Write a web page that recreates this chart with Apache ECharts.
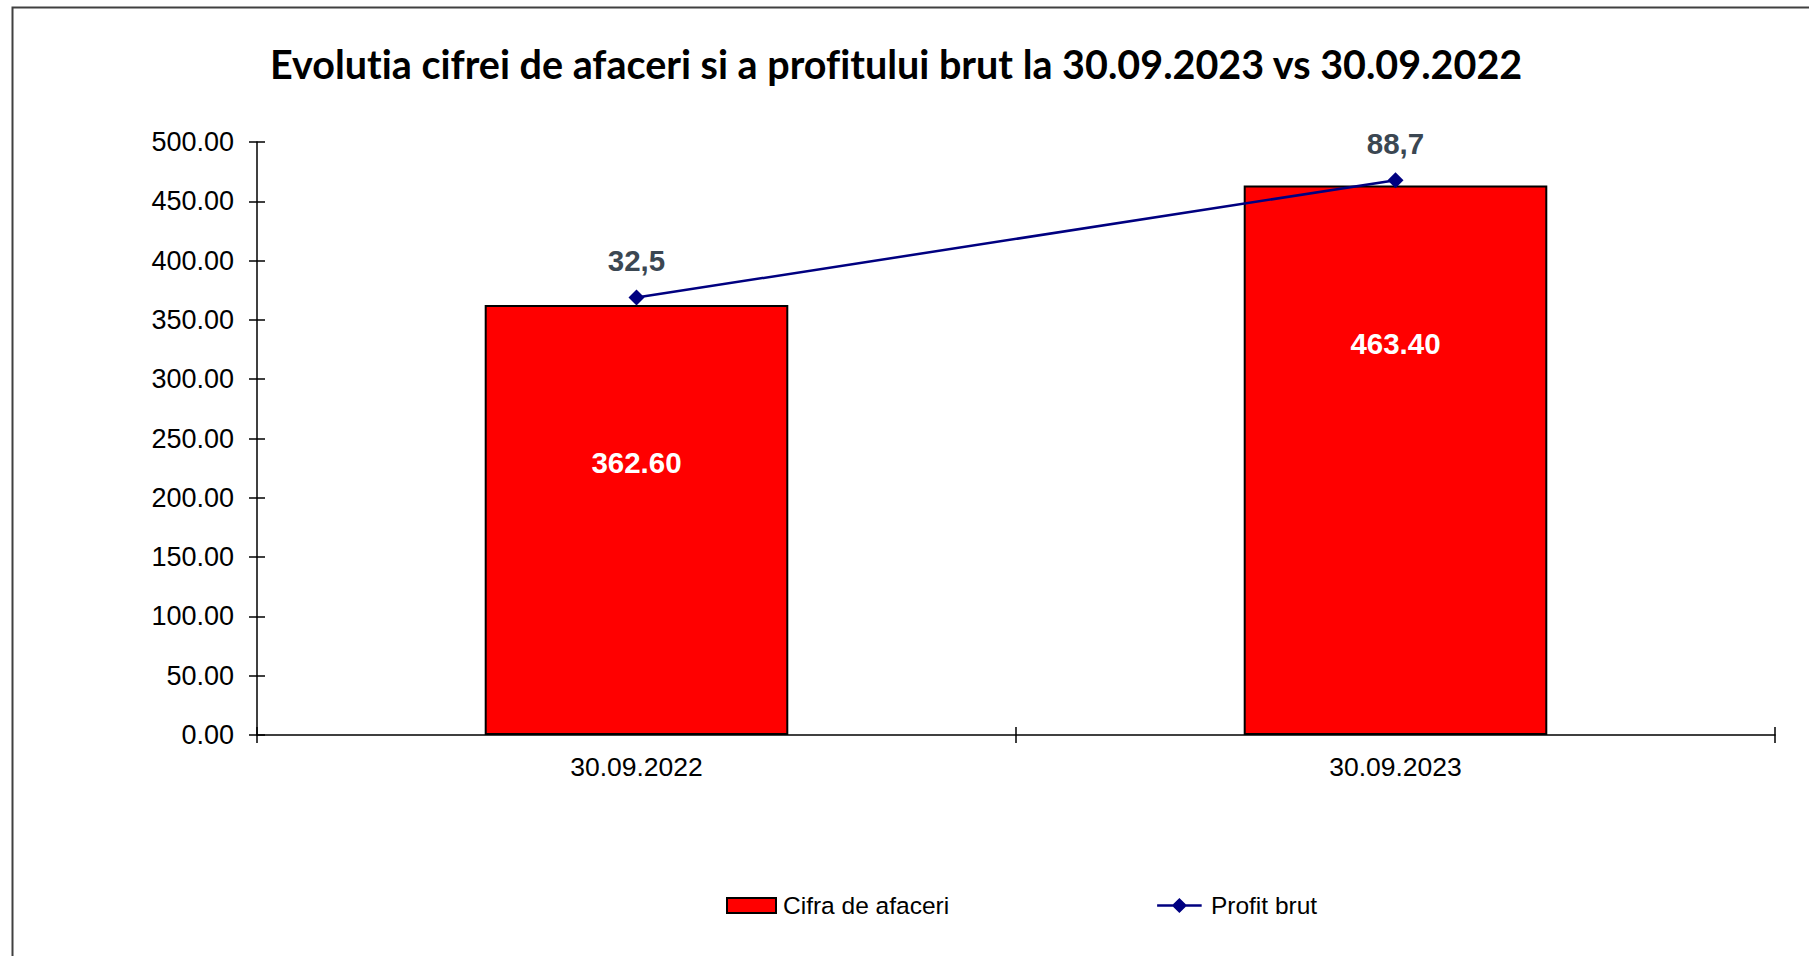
<!DOCTYPE html>
<html>
<head>
<meta charset="utf-8">
<script src="https://cdn.jsdelivr.net/npm/echarts@6/dist/echarts.min.js"></script>
<style>
html,body{margin:0;padding:0;background:#fff;}
#c{width:1809px;height:956px;}
#c svg text{font-variant-ligatures:none;font-feature-settings:"liga" 0,"clig" 0,"dlig" 0;}
</style>
</head>
<body>
<div id="c"></div>
<script>
const titleText = 'Evolutia cifrei de afaceri si a profitului brut la 30.09.2023 vs 30.09.2022';
const categories = ['30.09.2022', '30.09.2023'];
const cifraDeAfaceri = [362.60, 463.40];
const profitBrut = [32.5, 88.7];
const seriesNames = ['Cifra de afaceri', 'Profit brut'];

const chart = echarts.init(document.getElementById('c'), null, {renderer: 'svg'});
const FONT = '"Liberation Sans", Arial, sans-serif';

chart.setOption({
  backgroundColor: '#ffffff',
  animation: false,
  graphic: [{
    type: 'rect',
    shape: {x: 12.5, y: 7.5, width: 1900, height: 1000},
    style: {fill: 'none', stroke: '#404040', lineWidth: 2},
    silent: true, z: -10
  }],
  title: {
    text: titleText,
    left: 265,
    top: 38,
    textStyle: {fontFamily: 'Lato, "Open Sans", sans-serif', fontWeight: 'bold', fontSize: 39.5, color: '#000'}
  },
  legend: {
    data: [
      {name: seriesNames[0], icon: 'rect'},
      {name: seriesNames[1], icon: 'path://M0,6.5h17.5l7,-7l7,7h17.5v2.5h-17.5l-7,7l-7,-7h-17.5z'}
    ],
    left: 721,
    top: 888,
    itemWidth: 49,
    itemHeight: 15,
    itemGap: 208,
    textStyle: {fontFamily: FONT, fontSize: 24.5, color: '#000', padding: [0, 0, 0, 2]}
  },
  grid: {left: 257, right: 34, top: 142, bottom: 221, containLabel: false},
  xAxis: [{
    type: 'category',
    data: categories,
    axisLine: {onZero: false, lineStyle: {color: '#000', width: 1.5}},
    axisTick: {show: true, length: 8, lineStyle: {color: '#000', width: 1.5}},
    axisLabel: {fontFamily: FONT, fontSize: 26.5, color: '#000', margin: 18},
    splitLine: {show: false}
  }, {
    type: 'category',
    data: categories,
    position: 'bottom',
    axisLine: {show: false, onZero: false},
    axisTick: {show: true, inside: true, length: 8, lineStyle: {color: '#000', width: 1.5}},
    axisLabel: {show: false},
    splitLine: {show: false}
  }],
  yAxis: [{
    type: 'value',
    min: 0, max: 500, interval: 50,
    axisLine: {show: true, lineStyle: {color: '#000', width: 1.5}},
    axisTick: {show: true, length: 8, lineStyle: {color: '#000', width: 1.5}},
    axisLabel: {fontFamily: FONT, fontSize: 27, color: '#000', margin: 23, formatter: v => v.toFixed(2)},
    splitLine: {show: false}
  }, {
    type: 'value',
    show: false,
    min: -177, max: 107,
    splitLine: {show: false}
  }, {
    type: 'value',
    position: 'left',
    min: 0, max: 500, interval: 50,
    axisLine: {show: false},
    axisTick: {show: true, inside: true, length: 8, lineStyle: {color: '#000', width: 1.5}},
    axisLabel: {show: false},
    splitLine: {show: false}
  }],
  series: [{
    name: seriesNames[0],
    type: 'bar',
    data: cifraDeAfaceri,
    barWidth: '40%',
    itemStyle: {color: '#FF0000', borderColor: '#000', borderWidth: 2},
    label: {
      show: true, position: 'insideTop', distance: 143,
      fontFamily: FONT, fontWeight: 'bold', fontSize: 29.5, color: '#fff',
      formatter: p => p.value.toFixed(2)
    }
  }, {
    name: seriesNames[1],
    type: 'line',
    yAxisIndex: 1,
    data: profitBrut,
    color: '#000080',
    lineStyle: {color: '#000080', width: 2.5},
    itemStyle: {color: '#000080'},
    symbol: 'diamond',
    symbolSize: 16,
    label: {
      show: true, position: 'top', distance: 14,
      fontFamily: FONT, fontWeight: 'bold', fontSize: 29.5, color: '#3b4752',
      formatter: p => String(p.value).replace('.', ',')
    },
    z: 5
  }]
});
</script>
</body>
</html>
